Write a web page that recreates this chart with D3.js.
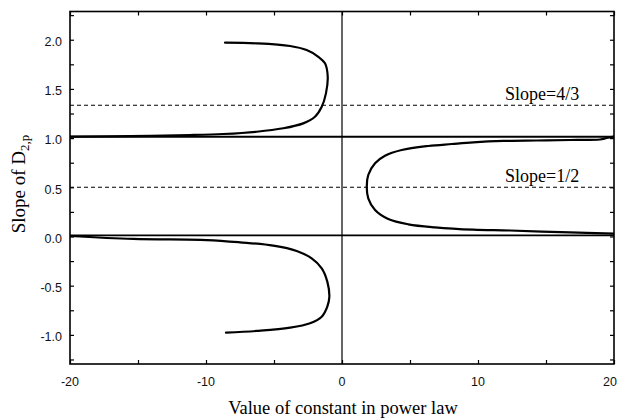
<!DOCTYPE html>
<html>
<head>
<meta charset="utf-8">
<script src="https://cdn.jsdelivr.net/npm/d3@7"></script>
<style>
  html, body { margin: 0; padding: 0; background: #fff; }
  svg { display: block; }
</style>
</head>
<body>
<svg id="chart" width="619" height="420"></svg>
<script>
// ---- data ----
const xTickValues = [-20, -10, 0, 10, 20];
const xTickLabels = ["-20", "-10", "0", "10", "20"];
const xMinorTicks = [-20, -15, -10, -5, 0, 5, 10, 15, 20];
const yTickValues = [-1.0, -0.5, 0.0, 0.5, 1.0, 1.5, 2.0];
const yTickLabels = ["-1.0", "-0.5", "0.0", "0.5", "1.0", "1.5", "2.0"];
const yMinorTicks = [-1.25, -1.0, -0.75, -0.5, -0.25, 0, 0.25, 0.5, 0.75, 1.0, 1.25, 1.5, 1.75, 2.0, 2.25];

// upper-left branch
const upperLeftX = [-8.6, -6.27, -3.82, -2.6, -1.74, -1.25, -1.05, -1.18, -1.49, -1.99, -2.85, -4.32, -6.27, -8.73, -11.18, -15.6, -20];
const upperLeftY = [1.97, 1.963, 1.936, 1.895, 1.827, 1.76, 1.624, 1.455, 1.319, 1.217, 1.15, 1.1, 1.065, 1.042, 1.031, 1.02, 1.016];
// lower-left branch
const lowerLeftX = [-8.53, -6.27, -3.82, -2.35, -1.49, -1.08, -0.93, -1.08, -1.49, -2.23, -3.33, -5.05, -7.5, -9.95, -15.35, -20];
const lowerLeftY = [-0.978, -0.96, -0.927, -0.882, -0.815, -0.713, -0.612, -0.459, -0.323, -0.222, -0.147, -0.093, -0.059, -0.036, -0.025, 0.005];
// right branch
const rightX = [20, 19.46, 18.97, 16.76, 14.32, 11.86, 9.65, 8.07, 6.35, 4.39, 3.16, 2.43, 1.93, 1.82, 1.93, 2.43, 3.4, 4.88, 6.84, 9.65, 12.35, 16.76, 20];
const rightY = [1.016, 1.001, 0.986, 0.981, 0.976, 0.971, 0.957, 0.94, 0.92, 0.879, 0.821, 0.744, 0.625, 0.506, 0.388, 0.269, 0.178, 0.124, 0.093, 0.069, 0.061, 0.041, 0.03];

// reference lines
const dashedLevels = [4 / 3, 0.5];
const dashedLabels = ["Slope=4/3", "Slope=1/2"];
const solidLevels = [1.014, 0.012];
const verticalLevels = [0];

// ---- drawing ----
const svg = d3.select("#chart");
const pLeft = 70, pRight = 614, pTop = 11.5, pBottom = 364;

const x = d3.scaleLinear().domain([-20, 20]).range([pLeft, pRight]);
const y = d3.scaleLinear().domain([-1.296, 2.287]).range([pBottom, pTop]);

svg.append("defs").append("clipPath").attr("id", "clip")
  .append("rect").attr("x", pLeft).attr("y", pTop)
  .attr("width", pRight - pLeft).attr("height", pBottom - pTop);

const plot = svg.append("g").attr("clip-path", "url(#clip)");

// dashed lines
plot.selectAll(".dash").data(dashedLevels).enter().append("line")
  .attr("x1", x(-20)).attr("x2", x(20))
  .attr("y1", d => y(d)).attr("y2", d => y(d))
  .attr("stroke", "#000").attr("stroke-width", 1.1)
  .attr("stroke-dasharray", "4,3");

// solid horizontal lines
plot.selectAll(".solid").data(solidLevels).enter().append("line")
  .attr("x1", x(-20)).attr("x2", x(20))
  .attr("y1", d => y(d)).attr("y2", d => y(d))
  .attr("stroke", "#000").attr("stroke-width", (d, i) => i === 0 ? 2.2 : 1.8);

// vertical line at 0
plot.selectAll(".vert").data(verticalLevels).enter().append("line")
  .attr("x1", d => x(d)).attr("x2", d => x(d))
  .attr("y1", pTop).attr("y2", pBottom)
  .attr("stroke", "#000").attr("stroke-width", 1.2);

// curves
const line = d3.line().x(d => x(d[0])).y(d => y(d[1]))
  .curve(d3.curveCatmullRom.alpha(0.5));
const curves = [
  d3.zip(upperLeftX, upperLeftY),
  d3.zip(lowerLeftX, lowerLeftY),
  d3.zip(rightX, rightY)
];
plot.selectAll(".curve").data(curves).enter().append("path")
  .attr("d", line).attr("fill", "none")
  .attr("stroke", "#000").attr("stroke-width", 2.2)
  .attr("stroke-linejoin", "round").attr("stroke-linecap", "round");

// frame
svg.append("rect").attr("x", pLeft).attr("y", pTop)
  .attr("width", pRight - pLeft).attr("height", pBottom - pTop)
  .attr("fill", "none").attr("stroke", "#000").attr("stroke-width", 1.6);

// ticks (inward) on all four sides
const tickStyle = g => {
  g.select(".domain").remove();
  g.selectAll(".tick line").attr("stroke", "#000").attr("stroke-width", 1.2);
};
svg.append("g").attr("transform", `translate(${pLeft},0)`)
  .call(d3.axisLeft(y).tickValues(yMinorTicks).tickSize(-4).tickFormat(""))
  .call(tickStyle);
svg.append("g").attr("transform", `translate(${pRight},0)`)
  .call(d3.axisRight(y).tickValues(yMinorTicks).tickSize(-4).tickFormat(""))
  .call(tickStyle);
svg.append("g").attr("transform", `translate(0,${pBottom})`)
  .call(d3.axisBottom(x).tickValues(xMinorTicks).tickSize(-4).tickFormat(""))
  .call(tickStyle);
svg.append("g").attr("transform", `translate(0,${pTop})`)
  .call(d3.axisTop(x).tickValues(xMinorTicks).tickSize(-4).tickFormat(""))
  .call(tickStyle);

// tick labels
svg.append("g").selectAll("text").data(yTickValues).enter().append("text")
  .attr("x", pLeft - 8).attr("y", d => y(d)).attr("dy", "0.5em")
  .attr("text-anchor", "end")
  .attr("font-family", "'Liberation Sans', Arial, sans-serif").attr("font-size", 12.5)
  .attr("fill", "#111")
  .text((d, i) => yTickLabels[i]);

svg.append("g").selectAll("text").data(xTickValues).enter().append("text")
  .attr("x", d => Math.min(x(d), 610)).attr("y", 385.5)
  .attr("text-anchor", "middle")
  .attr("font-family", "'Liberation Sans', Arial, sans-serif").attr("font-size", 12.5)
  .attr("fill", "#111")
  .text((d, i) => xTickLabels[i]);

// slope labels
svg.append("g").selectAll("text").data(dashedLevels).enter().append("text")
  .attr("x", 505).attr("y", d => y(d) - 5.5)
  .attr("font-family", "'Liberation Serif', 'Times New Roman', serif").attr("font-size", 18)
  .attr("fill", "#000")
  .text((d, i) => dashedLabels[i]);

// axis titles
svg.append("text")
  .attr("x", (pLeft + pRight) / 2 + 1).attr("y", 413.5)
  .attr("text-anchor", "middle")
  .attr("font-family", "'Liberation Serif', 'Times New Roman', serif").attr("font-size", 18.5)
  .text("Value of constant in power law");

const yt = svg.append("text")
  .attr("transform", "translate(25,184) rotate(-90)")
  .attr("text-anchor", "middle")
  .attr("font-family", "'Liberation Serif', 'Times New Roman', serif").attr("font-size", 19);
yt.append("tspan").text("Slope of D");
yt.append("tspan").attr("font-size", 13).attr("dy", 4).text("2,p");
</script>
</body>
</html>
